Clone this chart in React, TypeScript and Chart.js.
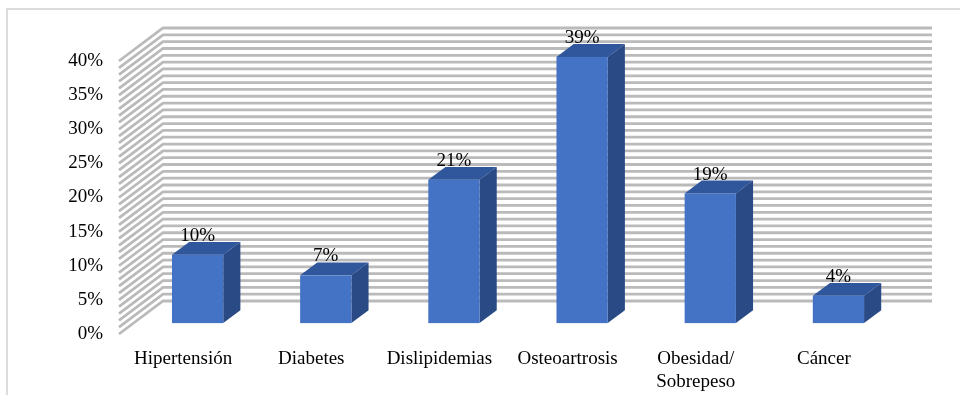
import React, { useEffect, useRef } from 'react';
import { Chart, registerables } from 'chart.js';

Chart.register(...registerables);

const categories: (string | string[])[] = [
  'Hipertensión',
  'Diabetes',
  'Dislipidemias',
  'Osteoartrosis',
  ['Obesidad/', 'Sobrepeso'],
  'Cáncer',
];
const values = [10, 7, 21, 39, 19, 4];
const yMin = 0;
const yMax = 40;
const yTickStep = 5;
const gridStep = 1;

const FONT = "'Liberation Serif', 'Times New Roman', serif";
const DEPTH_X = 44;
const DEPTH_Y = -33;
const BAR_FRONT = 0.33;
const BAR_BACK = 0.72;

const framePlugin = {
  id: 'frame',
  beforeDraw(chart: any) {
    const ctx = chart.ctx;
    ctx.save();
    ctx.strokeStyle = '#dcdcdc';
    ctx.lineWidth = 2;
    ctx.beginPath();
    ctx.moveTo(7, 395);
    ctx.lineTo(7, 9);
    ctx.lineTo(960, 9);
    ctx.stroke();
    ctx.restore();
  },
};

const wallPlugin = {
  id: 'wall3d',
  beforeDatasetsDraw(chart: any) {
    const ctx = chart.ctx;
    const y = chart.scales.y;
    const { left, right } = chart.chartArea;
    ctx.save();
    ctx.strokeStyle = '#bababa';
    ctx.lineWidth = 2.8;
    for (let v = yMin; v <= yMax; v += gridStep) {
      const py = y.getPixelForValue(v);
      ctx.beginPath();
      ctx.moveTo(left, py);
      ctx.lineTo(left + DEPTH_X, py + DEPTH_Y);
      ctx.lineTo(right + DEPTH_X, py + DEPTH_Y);
      ctx.stroke();
    }
    ctx.restore();
  },
};

const bar3dPlugin = {
  id: 'bar3d',
  afterDatasetsDraw(chart: any) {
    const ctx = chart.ctx;
    const meta = chart.getDatasetMeta(0);
    const fdx = DEPTH_X * BAR_FRONT;
    const fdy = DEPTH_Y * BAR_FRONT;
    const bdx = DEPTH_X * BAR_BACK;
    const bdy = DEPTH_Y * BAR_BACK;
    ctx.save();
    meta.data.forEach((el: any, i: number) => {
      const { x, y, base, width } = el.getProps(['x', 'y', 'base', 'width'], true);
      const xl = x - width / 2;
      const xr = x + width / 2;
      // side face
      ctx.fillStyle = '#2a4a85';
      ctx.beginPath();
      ctx.moveTo(xr + fdx, y + fdy);
      ctx.lineTo(xr + bdx, y + bdy);
      ctx.lineTo(xr + bdx, base + bdy);
      ctx.lineTo(xr + fdx, base + fdy);
      ctx.closePath();
      ctx.fill();
      // top face
      ctx.fillStyle = '#30569c';
      ctx.beginPath();
      ctx.moveTo(xl + fdx, y + fdy);
      ctx.lineTo(xr + fdx, y + fdy);
      ctx.lineTo(xr + bdx, y + bdy);
      ctx.lineTo(xl + bdx, y + bdy);
      ctx.closePath();
      ctx.fill();
      // front face
      ctx.fillStyle = '#4472c4';
      ctx.fillRect(xl + fdx, y + fdy, width, base - y);
      // label
      ctx.fillStyle = '#000';
      ctx.font = `19px ${FONT}`;
      ctx.textAlign = 'center';
      ctx.textBaseline = 'alphabetic';
      ctx.fillText(`${values[i]}%`, x + fdx, y + bdy - 1);
    });
    ctx.restore();
  },
};

export default function App() {
  const ref = useRef<HTMLCanvasElement | null>(null);
  useEffect(() => {
    if (!ref.current) return;
    const chart = new Chart(ref.current, {
      type: 'bar',
      data: {
        labels: categories as any,
        datasets: [
          {
            data: values,
            backgroundColor: 'rgba(0,0,0,0)',
            borderWidth: 0,
            categoryPercentage: 1,
            barPercentage: 0.4,
          },
        ],
      },
      options: {
        responsive: false,
        animation: false,
        layout: { padding: { top: 61, right: 72, left: 0, bottom: 0 } },
        plugins: { legend: { display: false }, tooltip: { enabled: false } },
        scales: {
          x: {
            grid: { display: false },
            border: { display: false },
            ticks: {
              color: '#000',
              font: { family: FONT, size: 19, lineHeight: 1.2 },
              maxRotation: 0,
              autoSkip: false,
              padding: 6,
            },
            afterFit(scale: any) {
              scale.height = 61;
            },
          },
          y: {
            min: yMin,
            max: yMax,
            grid: { display: false },
            border: { display: false },
            ticks: {
              stepSize: yTickStep,
              color: '#000',
              font: { family: FONT, size: 19 },
              padding: 8,
              callback: (v: any) => `${v}%`,
            },
            afterFit(scale: any) {
              scale.width = 119;
            },
          },
        },
      },
      plugins: [framePlugin, wallPlugin, bar3dPlugin],
    });
    return () => chart.destroy();
  }, []);
  return (
    <div style={{ position: 'absolute', left: 0, top: 0, width: 960, height: 395, background: '#fff' }}>
      <canvas ref={ref} width={960} height={395} />
    </div>
  );
}
